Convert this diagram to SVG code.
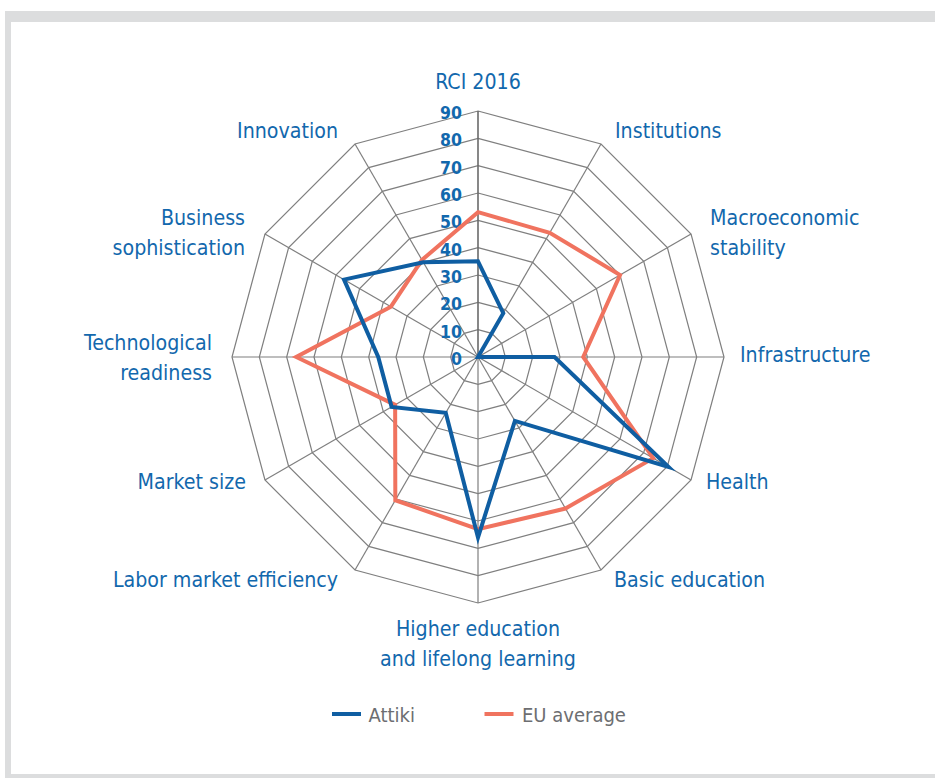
<svg xmlns="http://www.w3.org/2000/svg" width="935" height="778" viewBox="0 0 935 778">
<style>
.lbl{font-family:"DejaVu Sans Condensed","DejaVu Sans",sans-serif;font-size:21.2px;fill:#1268ad}
.tick{font-family:"DejaVu Sans Condensed","DejaVu Sans",sans-serif;font-size:17.5px;font-weight:bold;fill:#1268ad;text-anchor:end}
.leg{font-family:"DejaVu Sans Condensed","DejaVu Sans",sans-serif;font-size:20px;fill:#6d6e71}
.ring{fill:none;stroke:#7f7f7f;stroke-width:1.2}
.spoke{stroke:#7f7f7f;stroke-width:1.2}
.s-blue{fill:none;stroke:#0f5ea2;stroke-width:4;stroke-linejoin:miter;stroke-miterlimit:10}
.s-orange{fill:none;stroke:#f0735f;stroke-width:4;stroke-linejoin:miter;stroke-miterlimit:10}
</style>
<rect x="5" y="11" width="935" height="775" fill="#dcddde"/>
<rect x="11" y="22" width="930" height="752" fill="#ffffff"/>
<g id="grid" transform="translate(478,357)">
<polygon class="ring" points="0,-27.33 13.67,-23.67 23.67,-13.67 27.33,0 23.67,13.67 13.67,23.67 0,27.33 -13.67,23.67 -23.67,13.67 -27.33,0 -23.67,-13.67 -13.67,-23.67"/>
<polygon class="ring" points="0,-54.67 27.33,-47.34 47.34,-27.33 54.67,0 47.34,27.33 27.33,47.34 0,54.67 -27.33,47.34 -47.34,27.33 -54.67,0 -47.34,-27.33 -27.33,-47.34"/>
<polygon class="ring" points="0,-82 41,-71.01 71.01,-41 82,0 71.01,41 41,71.01 0,82 -41,71.01 -71.01,41 -82,0 -71.01,-41 -41,-71.01"/>
<polygon class="ring" points="0,-109.33 54.67,-94.68 94.68,-54.67 109.33,0 94.68,54.67 54.67,94.68 0,109.33 -54.67,94.68 -94.68,54.67 -109.33,0 -94.68,-54.67 -54.67,-94.68"/>
<polygon class="ring" points="0,-136.67 68.33,-118.36 118.36,-68.33 136.67,0 118.36,68.33 68.33,118.36 0,136.67 -68.33,118.36 -118.36,68.33 -136.67,0 -118.36,-68.33 -68.33,-118.36"/>
<polygon class="ring" points="0,-164 82,-142.03 142.03,-82 164,0 142.03,82 82,142.03 0,164 -82,142.03 -142.03,82 -164,0 -142.03,-82 -82,-142.03"/>
<polygon class="ring" points="0,-191.33 95.67,-165.7 165.7,-95.67 191.33,0 165.7,95.67 95.67,165.7 0,191.33 -95.67,165.7 -165.7,95.67 -191.33,0 -165.7,-95.67 -95.67,-165.7"/>
<polygon class="ring" points="0,-218.67 109.33,-189.37 189.37,-109.33 218.67,0 189.37,109.33 109.33,189.37 0,218.67 -109.33,189.37 -189.37,109.33 -218.67,0 -189.37,-109.33 -109.33,-189.37"/>
<polygon class="ring" points="0,-246 123,-213.04 213.04,-123 246,0 213.04,123 123,213.04 0,246 -123,213.04 -213.04,123 -246,0 -213.04,-123 -123,-213.04"/>
<line class="spoke" x1="0" y1="0" x2="123" y2="-213.04"/>
<line class="spoke" x1="0" y1="0" x2="213.04" y2="-123"/>
<line class="spoke" x1="0" y1="0" x2="246" y2="0"/>
<line class="spoke" x1="0" y1="0" x2="213.04" y2="123"/>
<line class="spoke" x1="0" y1="0" x2="123" y2="213.04"/>
<line class="spoke" x1="0" y1="0" x2="0" y2="246"/>
<line class="spoke" x1="0" y1="0" x2="-123" y2="213.04"/>
<line class="spoke" x1="0" y1="0" x2="-213.04" y2="123"/>
<line class="spoke" x1="0" y1="0" x2="-246" y2="0"/>
<line class="spoke" x1="0" y1="0" x2="-213.04" y2="-123"/>
<line class="spoke" x1="0" y1="0" x2="-123" y2="-213.04"/>
<line x1="0" y1="0" x2="0" y2="-246" stroke="#6a6a6a" stroke-width="1.6"/>
</g>
<g id="ticks">
<text class="tick" x="462" y="365">0</text>
<text class="tick" x="462" y="337.7">10</text>
<text class="tick" x="462" y="310.3">20</text>
<text class="tick" x="462" y="283">30</text>
<text class="tick" x="462" y="255.7">40</text>
<text class="tick" x="462" y="228.3">50</text>
<text class="tick" x="462" y="201">60</text>
<text class="tick" x="462" y="173.7">70</text>
<text class="tick" x="462" y="146.3">80</text>
<text class="tick" x="462" y="119">90</text>
</g>
<g id="series">
<polygon id="eu-average" class="s-orange" points="478,212.13 549.75,232.73 620.03,275 583.23,357 653.17,458.13 565.47,508.5 478,529.2 395.32,500.21 395.15,404.83 296.23,357 390.89,306.71 421.97,259.95"/>
<polygon id="attiki" class="s-blue" points="478,261.33 503.28,313.21 478,357 554.53,357 668.55,467.02 514.9,420.91 478,537.4 445.75,412.87 391.6,406.88 378.23,357 344.02,279.65 423.33,262.32"/>
</g>
<g id="axis-labels">
<g id="lbl-rci"><text class="lbl" x="478" y="89" text-anchor="middle">RCI 2016</text></g>
<g id="lbl-institutions"><text class="lbl" x="615" y="137.5">Institutions</text></g>
<g id="lbl-macro"><text class="lbl" x="710" y="225">Macroeconomic</text><text class="lbl" x="710" y="254.5">stability</text></g>
<g id="lbl-infrastructure"><text class="lbl" x="740" y="361.5">Infrastructure</text></g>
<g id="lbl-health"><text class="lbl" x="706" y="488.5">Health</text></g>
<g id="lbl-basic"><text class="lbl" x="614" y="586.5">Basic education</text></g>
<g id="lbl-higher"><text class="lbl" x="478" y="636" text-anchor="middle">Higher education</text><text class="lbl" x="478" y="666" text-anchor="middle">and lifelong learning</text></g>
<g id="lbl-labor"><text class="lbl" x="338" y="586.5" text-anchor="end">Labor market efficiency</text></g>
<g id="lbl-market"><text class="lbl" x="246" y="488.5" text-anchor="end">Market size</text></g>
<g id="lbl-tech"><text class="lbl" x="212" y="350" text-anchor="end">Technological</text><text class="lbl" x="212" y="380" text-anchor="end">readiness</text></g>
<g id="lbl-business"><text class="lbl" x="245" y="225" text-anchor="end">Business</text><text class="lbl" x="245" y="255" text-anchor="end">sophistication</text></g>
<g id="lbl-innovation"><text class="lbl" x="338" y="138" text-anchor="end">Innovation</text></g>
</g>
<g id="legend">
<line x1="332" y1="714" x2="361" y2="714" stroke="#0f5ea2" stroke-width="4"/>
<text class="leg" x="368.5" y="721.5">Attiki</text>
<line x1="484.5" y1="714" x2="513.5" y2="714" stroke="#f0735f" stroke-width="4"/>
<text class="leg" x="522" y="721.5">EU average</text>
</g>
</svg>
